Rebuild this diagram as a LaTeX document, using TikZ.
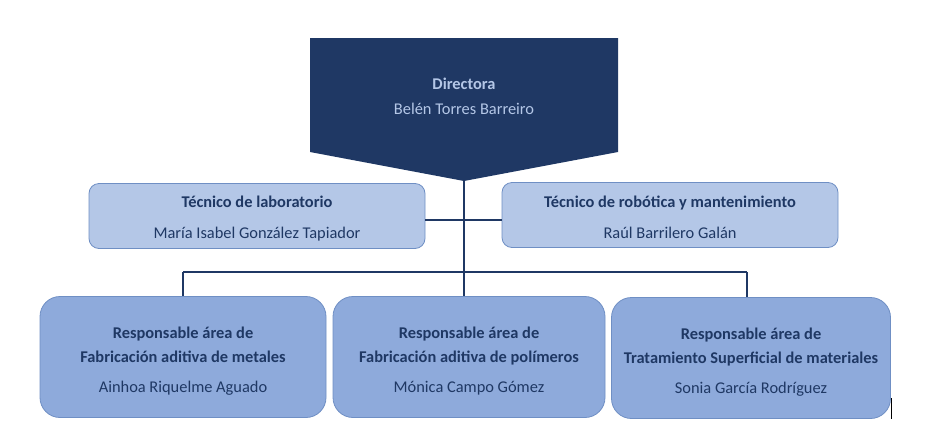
\documentclass[tikz,border=0pt]{standalone}
\usepackage{fontspec}
\setmainfont{Carlito}
\definecolor{navy}{HTML}{1F3864}
\definecolor{paletxt}{HTML}{B4C7E7}
\definecolor{techfill}{HTML}{B4C7E7}
\definecolor{techline}{HTML}{6F8FC4}
\definecolor{areafill}{HTML}{8EAADB}
\definecolor{arealine}{HTML}{6F8FC4}
\newcommand{\topstrut}[1]{\rule{0pt}{#1}}
\begin{document}
\begin{tikzpicture}[x=1pt,y=-1pt,
  techbox/.style={draw=techline,fill=techfill,line width=0.8pt,rounded corners=10pt,
    minimum width=336pt,minimum height=65pt,inner sep=0pt,align=center,text=navy,
    font=\fontsize{16.4}{31}\selectfont},
  areabox/.style={draw=arealine,fill=areafill,line width=0.8pt,rounded corners=20pt,
    minimum height=121pt,inner sep=0pt,align=center,text=navy,
    font=\fontsize{16.4}{24}\selectfont},
  conn/.style={draw=navy,line width=2pt}]
\useasboundingbox (0,0) rectangle (946,445);
% director pentagon
\coordinate (tip) at (464,181);
\fill[navy] (310,38) -- (618,38) -- (618,152) -- (tip) -- (310,152) -- cycle;
\node[align=center,text=paletxt,font=\fontsize{16.4}{25}\selectfont] (dir) at (464,96)
  {\textbf{Directora}\\Belén Torres Barreiro};
% technicians
\node[techbox] (t1) at (257,216) {\topstrut{17pt}\textbf{Técnico de laboratorio}\\María Isabel González Tapiador};
\node[techbox] (t2) at (670,215) {\topstrut{17pt}\textbf{Técnico de robótica y mantenimiento}\\Raúl Barrilero Galán};
% area heads
\node[areabox,minimum width=286pt] (a1) at (183,357)
  {\topstrut{19pt}\textbf{Responsable área de}\\\textbf{Fabricación aditiva de metales}\\[6pt]Ainhoa Riquelme Aguado};
\node[areabox,minimum width=272pt] (a2) at (469,357)
  {\topstrut{19pt}\textbf{Responsable área de}\\\textbf{Fabricación aditiva de polímeros}\\[6pt]Mónica Campo Gómez};
\node[areabox,minimum width=279pt] (a3) at (751,358)
  {\topstrut{19pt}\textbf{Responsable área de}\\\textbf{Tratamiento Superficial de materiales}\\[6pt]Sonia García Rodríguez};
% connectors
\coordinate (busM) at (464,272);
\coordinate (busL) at (183,272);
\coordinate (busR) at (747,272);
\coordinate (tl) at (425,220);
\coordinate (tr) at (502,220);
\draw[conn] (tip) -- (busM);
\draw[conn] (tl) -- (tr);
\draw[conn] (busL) -- (busR);
\draw[conn] (busL) -- (busL |- a1.north);
\draw[conn] (busM) -- (busM |- a2.north);
\draw[conn] (busR) -- (busR |- a3.north);
% stray mark
\draw[black,line width=1pt] (891,398) -- (891,419);
\end{tikzpicture}
\end{document}
